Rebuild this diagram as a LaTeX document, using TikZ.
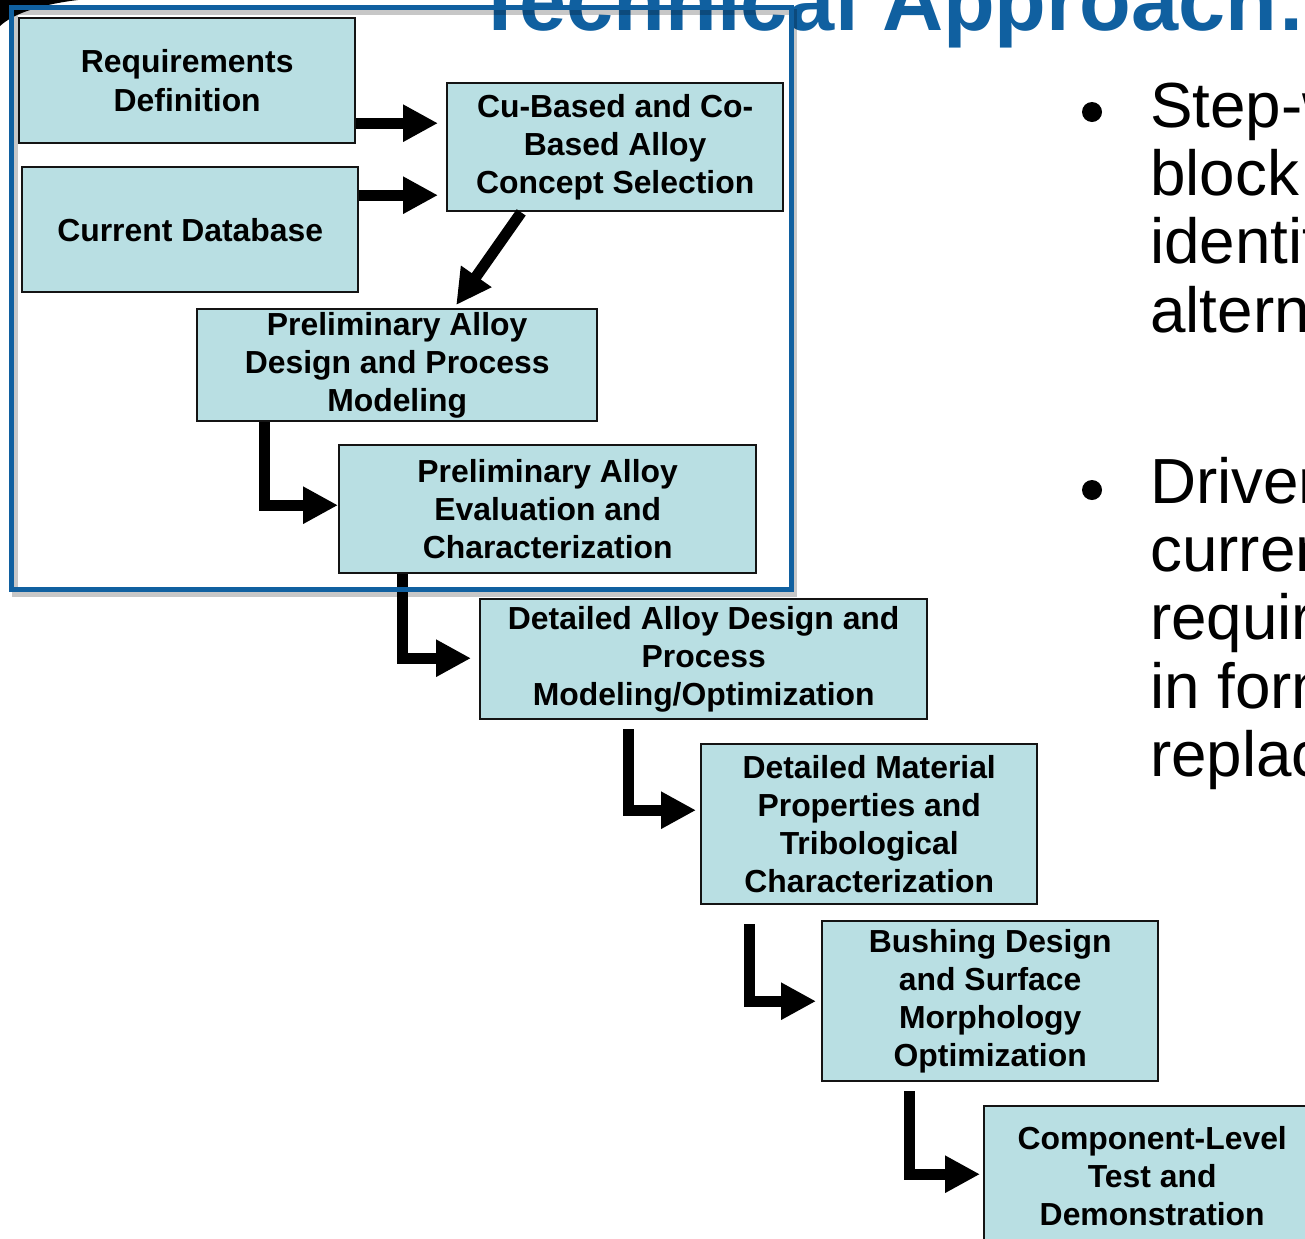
\documentclass[tikz,border=0pt]{standalone}
\usepackage{fontspec}
\setmainfont{Liberation Sans}
\usetikzlibrary{arrows.meta,calc}
\definecolor{boxfill}{RGB}{185,223,227}
\definecolor{frameblue}{RGB}{16,96,160}
\begin{document}
\begin{tikzpicture}[x=1bp,y=-1bp,
  box/.style={draw=black!92, line width=2.4bp, fill=boxfill, align=center,
    inner sep=0pt, anchor=north west,
    font=\fontsize{32}{38.4}\selectfont\bfseries},
  flow/.style={line width=11bp, black, -{Triangle[length=35bp,width=35bp]}},
  bul/.style={anchor=base west, inner sep=0pt, font=\fontsize{64}{68.5}\selectfont},
  dot/.style={circle, fill=black, inner sep=0pt, minimum size=20bp}]
\useasboundingbox (0,0) rectangle (1305,1238);
\clip (0,0) rectangle (1305,1238);

% corner swoosh
\fill[black] (0,0) -- (78,0) .. controls (45,4) and (15,12) .. (0,26) -- cycle;

% title (cut off by the top edge)
\node[anchor=base west, inner sep=0pt, text=frameblue,
      font=\fontsize{85}{92}\selectfont\bfseries] (title) at (474,30) {Technical Approach:};

% bullets
\node[dot] (dot1) at (1092,112) {};
\node[dot] (dot2) at (1092,490) {};
\foreach \t [count=\i] in {Step-w,block,identif,altern}
  \node[bul] (ba\i) at (1150,{127+68.4*(\i-1)}) {\t};
\foreach \t [count=\i] in {Driven,curren,requir,in form,replac}
  \node[bul] (bb\i) at (1150,{503+68.4*(\i-1)}) {\t};

% boxes
\node[box, minimum width=336bp, minimum height=125bp] (req) at (18,17) {Requirements\\Definition};
\node[box, minimum width=336bp, minimum height=125bp] (db) at (21,166) {Current Database};
\node[box, minimum width=336bp, minimum height=128bp] (cu) at (446,82) {Cu-Based and Co-\\Based Alloy\\Concept Selection};
\node[box, minimum width=400bp, minimum height=112bp] (pd) at (196,308) {Preliminary Alloy\\Design and Process\\Modeling};
\node[box, minimum width=417bp, minimum height=128bp] (pe) at (338,444) {Preliminary Alloy\\Evaluation and\\Characterization};
\node[box, minimum width=447bp, minimum height=120bp] (dd) at (479,598) {Detailed Alloy Design and\\Process\\Modeling/Optimization};
\node[box, minimum width=336bp, minimum height=160bp] (dm) at (700,743) {Detailed Material\\Properties and\\Tribological\\Characterization};
\node[box, minimum width=336bp, minimum height=160bp] (bd) at (821,920) {Bushing Design\\and Surface\\Morphology\\Optimization};
\node[box, minimum width=336bp, minimum height=140bp] (cl) at (983,1105) {Component-Level\\Test and\\Demonstration};

% connectors
\coordinate (a1) at ($(req.east)+(0,42.5)$);
\draw[flow, shorten >=8bp] (a1) -- (cu.west |- a1);
\coordinate (a2) at ($(db.east)+(0,-34.5)$);
\draw[flow, shorten >=8bp] (a2) -- (cu.west |- a2);
\draw[flow] ($(cu.south)+(-94,0)$) -- ($(pd.north)+(59,-3)$);
\draw[flow] ($(pd.south)+(-133,0)$) |- ($(pe.west)+(0,-4)$);
\draw[flow, shorten >=8bp] ($(pe.south)+(-145.5,0)$) |- ($(dd.west)+(0,-1)$);
\draw[flow, shorten >=4bp] ($(dd.south)+(-75.5,9)$) |- ($(dm.west)+(0,-14)$);
\draw[flow, shorten >=5bp] ($(dm.south)+(-120,19)$) |- (bd.west);
\draw[flow, shorten >=3bp] ($(bd.south)+(-81,9)$) |- ($(cl.west)+(0,-2)$);

% highlight frame with shadow
\draw[black, opacity=0.22, line width=6bp] (14.5,12) rectangle (794,594);
\draw[frameblue, line width=5bp] (11.5,7) rectangle (791,589);
\end{tikzpicture}
\end{document}
